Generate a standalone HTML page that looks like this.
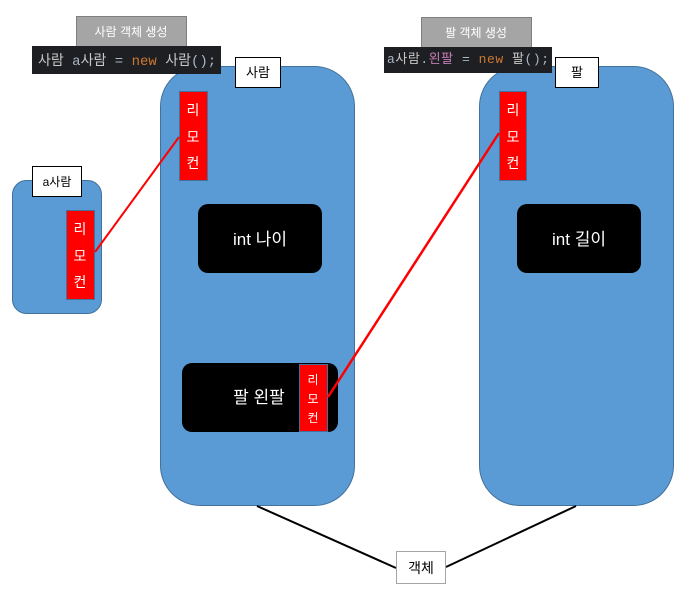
<!DOCTYPE html>
<html><head><meta charset="utf-8"><style>
html,body{margin:0;padding:0;background:#fff;width:680px;height:591px;overflow:hidden}
svg text{font-family:"Liberation Sans","Noto Sans CJK KR",sans-serif}
.m{font-family:"Liberation Mono","Noto Sans CJK KR",monospace}
</style></head><body>
<svg width="680" height="591" viewBox="0 0 680 591" xmlns="http://www.w3.org/2000/svg">
<rect x="160.5" y="66.5" width="194" height="439" rx="40" fill="#5b9bd5" stroke="#41719c"/>
<rect x="479.5" y="66.5" width="194" height="439" rx="40" fill="#5b9bd5" stroke="#41719c"/>
<rect x="12.5" y="180.5" width="89" height="133" rx="14" fill="#5b9bd5" stroke="#41719c"/>
<rect x="32.5" y="166.5" width="49" height="30" fill="#fff" stroke="#000"/>
<text x="57" y="186" font-size="12" text-anchor="middle">a사람</text>
<rect x="235.5" y="57.5" width="45" height="30" fill="#fff" stroke="#000"/>
<text x="258" y="77" font-size="13" text-anchor="middle">사람</text>
<rect x="555.5" y="57.5" width="43" height="30" fill="#fff" stroke="#000"/>
<text x="577" y="77" font-size="13" text-anchor="middle">팔</text>
<rect x="76.5" y="16.5" width="110" height="30" fill="#a5a5a5" stroke="#7f7f7f"/>
<text x="131" y="36" font-size="12" fill="#fff" text-anchor="middle">사람 객체 생성</text>
<rect x="421.5" y="17.5" width="110" height="30" fill="#a5a5a5" stroke="#7f7f7f"/>
<text x="476" y="37" font-size="12" fill="#fff" text-anchor="middle">팔 객체 생성</text>
<rect x="32" y="46" width="189" height="28" fill="#1e1f22"/>
<text x="38" y="65" font-size="14" class="m"><tspan fill="#c8c8c8">사람</tspan><tspan fill="#a9b7c6"> a</tspan><tspan fill="#c8c8c8">사람</tspan><tspan fill="#a9b7c6"> = </tspan><tspan fill="#cc7832">new</tspan><tspan fill="#a9b7c6"> </tspan><tspan fill="#c8c8c8">사람</tspan><tspan fill="#a9b7c6">();</tspan></text>
<rect x="384" y="47" width="168" height="26" fill="#1e1f22"/>
<text x="387" y="63" font-size="13" class="m" textLength="162"><tspan fill="#a9b7c6">a</tspan><tspan fill="#c8c8c8">사람</tspan><tspan fill="#a9b7c6">.</tspan><tspan fill="#c77dbb">왼팔</tspan><tspan fill="#a9b7c6"> = </tspan><tspan fill="#cc7832">new</tspan><tspan fill="#a9b7c6"> </tspan><tspan fill="#c8c8c8">팔</tspan><tspan fill="#a9b7c6">();</tspan></text>
<rect x="198" y="204" width="124" height="69" rx="10" fill="#000"/>
<text x="260" y="245" font-size="17" fill="#fff" text-anchor="middle">int 나이</text>
<rect x="517" y="204" width="124" height="69" rx="10" fill="#000"/>
<text x="579" y="245" font-size="17" fill="#fff" text-anchor="middle">int 길이</text>
<rect x="182" y="363" width="156" height="69" rx="10" fill="#000"/>
<text x="259" y="403" font-size="17" fill="#fff" text-anchor="middle">팔 왼팔</text>
<g font-size="14" fill="#fff" text-anchor="middle">
<rect x="179.5" y="91.5" width="28" height="89" fill="#f00" stroke="#41719c"/>
<text x="193" y="115">리</text><text x="193" y="142">모</text><text x="193" y="168">컨</text>
<rect x="499.5" y="91.5" width="27" height="89" fill="#f00" stroke="#41719c"/>
<text x="513" y="115">리</text><text x="513" y="142">모</text><text x="513" y="168">컨</text>
<rect x="66.5" y="210.5" width="28" height="89" fill="#f00" stroke="#41719c"/>
<text x="80" y="234">리</text><text x="80" y="261">모</text><text x="80" y="287">컨</text>
<rect x="299.5" y="364.5" width="28" height="67" fill="#f00" stroke="#41719c"/>
<text x="313" y="384" font-size="12">리</text><text x="313" y="403" font-size="12">모</text><text x="313" y="422" font-size="12">컨</text>
</g>
<line x1="95" y1="252" x2="179" y2="137" stroke="#f00" stroke-width="2"/>
<line x1="328" y1="397" x2="499" y2="133" stroke="#f00" stroke-width="2.5"/>
<line x1="257" y1="506" x2="396" y2="568" stroke="#000" stroke-width="2"/>
<line x1="576" y1="506" x2="446" y2="567" stroke="#000" stroke-width="2"/>
<rect x="396.5" y="551.5" width="49" height="32" fill="#fff" stroke="#a5a5a5"/>
<text x="421" y="573" font-size="14" text-anchor="middle">객체</text>
</svg>
</body></html>
